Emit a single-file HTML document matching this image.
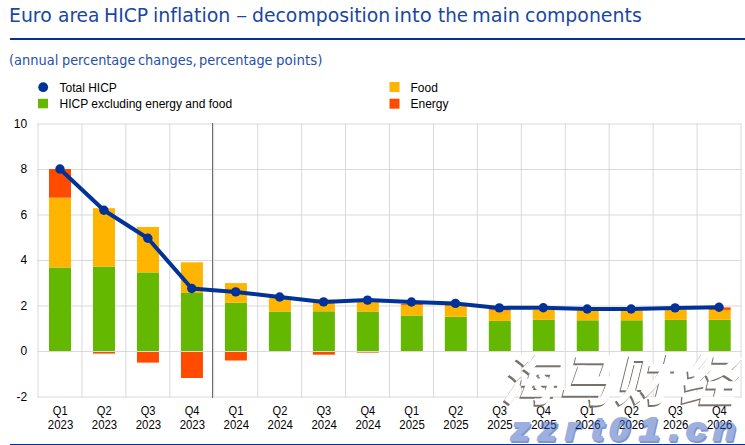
<!DOCTYPE html>
<html><head><meta charset="utf-8"><style>
html,body{margin:0;padding:0;background:#fff;}
body{width:745px;height:445px;overflow:hidden;position:relative;}
.title{position:absolute;top:4px;transform-origin:0 0;font-family:"DejaVu Sans","Liberation Sans",sans-serif;font-size:19.2px;color:#1a47a3;white-space:nowrap;line-height:24px;font-variant-ligatures:none;}
.sub{position:absolute;top:51px;transform-origin:0 0;font-family:"DejaVu Sans","Liberation Sans",sans-serif;font-size:14px;color:#2650a9;white-space:nowrap;line-height:18px;font-variant-ligatures:none;}
.rule{position:absolute;left:10px;right:0;top:38px;height:2px;background:#003299;}
.rule2{position:absolute;left:10px;right:0;top:444px;height:2px;background:#003299;}
svg{position:absolute;left:0;top:0;}
.ax{font-family:"Liberation Sans",sans-serif;font-size:12px;fill:#000;}
.wmc{font-family:"Noto Sans CJK SC","WenQuanYi Zen Hei",sans-serif;font-weight:900;font-size:55px;fill:#fff;}
.wms{fill:#78726c;}
.wml{font-family:"Liberation Sans",sans-serif;font-weight:bold;font-style:italic;font-size:31.5px;fill:rgb(60,100,195);stroke:rgb(60,100,195);stroke-width:2px;stroke-linejoin:round;}
.wmls{fill:rgb(10,45,160);stroke:rgb(10,45,160);}
</style></head><body>
<span class="title" style="left:8.73px;transform:scaleX(0.9829)">Euro</span><span class="title" style="left:57.53px;transform:scaleX(0.9675)">area</span><span class="title" style="left:104.04px;transform:scaleX(0.9814)">HICP</span><span class="title" style="left:153.42px;transform:scaleX(0.9907)">inflation</span><span class="title" style="left:236.02px;transform:scaleX(1.1750)">–</span><span class="title" style="left:252.42px;transform:scaleX(0.9806)">decomposition</span><span class="title" style="left:394.35px;transform:scaleX(1.0265)">into</span><span class="title" style="left:438.00px;transform:scaleX(0.9516)">the</span><span class="title" style="left:472.20px;transform:scaleX(1.0022)">main</span><span class="title" style="left:525.32px;transform:scaleX(0.9846)">components</span>
<div class="rule"></div>
<span class="sub" style="left:8.67px;transform:scaleX(0.9294)">(annual</span><span class="sub" style="left:61.88px;transform:scaleX(0.9205)">percentage</span><span class="sub" style="left:138.48px;transform:scaleX(0.9246)">changes,</span><span class="sub" style="left:199.38px;transform:scaleX(0.9231)">percentage</span><span class="sub" style="left:276.14px;transform:scaleX(0.9565)">points)</span>
<svg width="745" height="445" viewBox="0 0 745 445">
<line x1="37.5" x2="741.5" y1="124.0" y2="124.0" stroke="#d9d9d9" stroke-width="1"/>
<line x1="37.5" x2="741.5" y1="169.5" y2="169.5" stroke="#d9d9d9" stroke-width="1"/>
<line x1="37.5" x2="741.5" y1="215.0" y2="215.0" stroke="#d9d9d9" stroke-width="1"/>
<line x1="37.5" x2="741.5" y1="260.5" y2="260.5" stroke="#d9d9d9" stroke-width="1"/>
<line x1="37.5" x2="741.5" y1="306.0" y2="306.0" stroke="#d9d9d9" stroke-width="1"/>
<line x1="37.5" x2="741.5" y1="351.5" y2="351.5" stroke="#d9d9d9" stroke-width="1"/>
<line x1="37.5" x2="741.5" y1="397.0" y2="397.0" stroke="#d9d9d9" stroke-width="1"/>
<line x1="38.000" x2="38.000" y1="123.5" y2="397.5" stroke="#d9d9d9" stroke-width="1"/>
<line x1="81.938" x2="81.938" y1="123.5" y2="397.5" stroke="#d9d9d9" stroke-width="1"/>
<line x1="125.875" x2="125.875" y1="123.5" y2="397.5" stroke="#d9d9d9" stroke-width="1"/>
<line x1="169.812" x2="169.812" y1="123.5" y2="397.5" stroke="#d9d9d9" stroke-width="1"/>
<line x1="213.750" x2="213.750" y1="123.5" y2="397.5" stroke="#d9d9d9" stroke-width="1"/>
<line x1="257.688" x2="257.688" y1="123.5" y2="397.5" stroke="#d9d9d9" stroke-width="1"/>
<line x1="301.625" x2="301.625" y1="123.5" y2="397.5" stroke="#d9d9d9" stroke-width="1"/>
<line x1="345.562" x2="345.562" y1="123.5" y2="397.5" stroke="#d9d9d9" stroke-width="1"/>
<line x1="389.500" x2="389.500" y1="123.5" y2="397.5" stroke="#d9d9d9" stroke-width="1"/>
<line x1="433.438" x2="433.438" y1="123.5" y2="397.5" stroke="#d9d9d9" stroke-width="1"/>
<line x1="477.375" x2="477.375" y1="123.5" y2="397.5" stroke="#d9d9d9" stroke-width="1"/>
<line x1="521.312" x2="521.312" y1="123.5" y2="397.5" stroke="#d9d9d9" stroke-width="1"/>
<line x1="565.250" x2="565.250" y1="123.5" y2="397.5" stroke="#d9d9d9" stroke-width="1"/>
<line x1="609.188" x2="609.188" y1="123.5" y2="397.5" stroke="#d9d9d9" stroke-width="1"/>
<line x1="653.125" x2="653.125" y1="123.5" y2="397.5" stroke="#d9d9d9" stroke-width="1"/>
<line x1="697.062" x2="697.062" y1="123.5" y2="397.5" stroke="#d9d9d9" stroke-width="1"/>
<line x1="741.000" x2="741.000" y1="123.5" y2="397.5" stroke="#d9d9d9" stroke-width="1"/>
<rect x="49.00" y="267.5" width="22" height="83.50" fill="#65b800"/>
<rect x="49.00" y="197.7" width="22" height="69.80" fill="#ffb400"/>
<rect x="49.00" y="169.0" width="22" height="28.70" fill="#ff4b00"/>
<rect x="92.98" y="266.5" width="22" height="84.50" fill="#65b800"/>
<rect x="92.98" y="208.2" width="22" height="58.30" fill="#ffb400"/>
<rect x="92.98" y="352" width="22" height="1.60" fill="#ff4b00"/>
<rect x="136.96" y="272.4" width="22" height="78.60" fill="#65b800"/>
<rect x="136.96" y="227.0" width="22" height="45.40" fill="#ffb400"/>
<rect x="136.96" y="352" width="22" height="10.60" fill="#ff4b00"/>
<rect x="180.94" y="293.0" width="22" height="58.00" fill="#65b800"/>
<rect x="180.94" y="262.3" width="22" height="30.70" fill="#ffb400"/>
<rect x="180.94" y="352" width="22" height="26.00" fill="#ff4b00"/>
<rect x="224.92" y="302.8" width="22" height="48.20" fill="#65b800"/>
<rect x="224.92" y="283.1" width="22" height="19.70" fill="#ffb400"/>
<rect x="224.92" y="352" width="22" height="8.50" fill="#ff4b00"/>
<rect x="268.90" y="311.5" width="22" height="39.50" fill="#65b800"/>
<rect x="268.90" y="298.0" width="22" height="13.50" fill="#ffb400"/>
<rect x="312.88" y="311.3" width="22" height="39.70" fill="#65b800"/>
<rect x="312.88" y="299.5" width="22" height="11.80" fill="#ffb400"/>
<rect x="312.88" y="352" width="22" height="2.70" fill="#ff4b00"/>
<rect x="356.86" y="311.5" width="22" height="39.50" fill="#65b800"/>
<rect x="356.86" y="302.0" width="22" height="9.50" fill="#ffb400"/>
<rect x="356.86" y="352" width="22" height="0.60" fill="#ff4b00"/>
<rect x="400.84" y="315.5" width="22" height="35.50" fill="#65b800"/>
<rect x="400.84" y="304.9" width="22" height="10.60" fill="#ffb400"/>
<rect x="400.84" y="303.8" width="22" height="1.10" fill="#ff4b00"/>
<rect x="444.82" y="316.8" width="22" height="34.20" fill="#65b800"/>
<rect x="444.82" y="305.8" width="22" height="11.00" fill="#ffb400"/>
<rect x="444.82" y="305.0" width="22" height="0.80" fill="#ff4b00"/>
<rect x="488.80" y="320.9" width="22" height="30.10" fill="#65b800"/>
<rect x="488.80" y="310.5" width="22" height="10.40" fill="#ffb400"/>
<rect x="488.80" y="309.2" width="22" height="1.30" fill="#ff4b00"/>
<rect x="532.78" y="319.5" width="22" height="31.50" fill="#65b800"/>
<rect x="532.78" y="310.0" width="22" height="9.50" fill="#ffb400"/>
<rect x="576.76" y="320.3" width="22" height="30.70" fill="#65b800"/>
<rect x="576.76" y="310.4" width="22" height="9.90" fill="#ffb400"/>
<rect x="620.74" y="320.3" width="22" height="30.70" fill="#65b800"/>
<rect x="620.74" y="310.5" width="22" height="9.80" fill="#ffb400"/>
<rect x="664.72" y="319.9" width="22" height="31.10" fill="#65b800"/>
<rect x="664.72" y="310.0" width="22" height="9.90" fill="#ffb400"/>
<rect x="708.70" y="319.8" width="22" height="31.20" fill="#65b800"/>
<rect x="708.70" y="309.9" width="22" height="9.90" fill="#ffb400"/>
<rect x="708.70" y="307.4" width="22" height="2.50" fill="#ff4b00"/>
<line x1="212.5" x2="212.5" y1="123" y2="398" stroke="#6a6a6a" stroke-width="1"/>
<polyline points="59.97,169.0 103.91,210.2 147.84,238.2 191.78,288.5 235.72,291.9 279.66,297.0 323.59,301.9 367.53,300.1 411.47,302.0 455.41,303.4 499.34,307.9 543.28,307.7 587.22,309.0 631.16,309.0 675.09,307.9 719.03,307.2" fill="none" stroke="#003299" stroke-width="4" stroke-linejoin="round" stroke-linecap="round"/>
<circle cx="59.97" cy="169.0" r="4.7" fill="#003299"/>
<circle cx="103.91" cy="210.2" r="4.7" fill="#003299"/>
<circle cx="147.84" cy="238.2" r="4.7" fill="#003299"/>
<circle cx="191.78" cy="288.5" r="4.7" fill="#003299"/>
<circle cx="235.72" cy="291.9" r="4.7" fill="#003299"/>
<circle cx="279.66" cy="297.0" r="4.7" fill="#003299"/>
<circle cx="323.59" cy="301.9" r="4.7" fill="#003299"/>
<circle cx="367.53" cy="300.1" r="4.7" fill="#003299"/>
<circle cx="411.47" cy="302.0" r="4.7" fill="#003299"/>
<circle cx="455.41" cy="303.4" r="4.7" fill="#003299"/>
<circle cx="499.34" cy="307.9" r="4.7" fill="#003299"/>
<circle cx="543.28" cy="307.7" r="4.7" fill="#003299"/>
<circle cx="587.22" cy="309.0" r="4.7" fill="#003299"/>
<circle cx="631.16" cy="309.0" r="4.7" fill="#003299"/>
<circle cx="675.09" cy="307.9" r="4.7" fill="#003299"/>
<circle cx="719.03" cy="307.2" r="4.7" fill="#003299"/>
<text x="27.2" y="127.5" text-anchor="end" class="ax">10</text>
<text x="27.2" y="173.0" text-anchor="end" class="ax">8</text>
<text x="27.2" y="218.5" text-anchor="end" class="ax">6</text>
<text x="27.2" y="264.0" text-anchor="end" class="ax">4</text>
<text x="27.2" y="309.5" text-anchor="end" class="ax">2</text>
<text x="27.2" y="355.0" text-anchor="end" class="ax">0</text>
<text x="27.2" y="400.5" text-anchor="end" class="ax">-2</text>
<text x="60.27" y="415" text-anchor="middle" class="ax" textLength="14.8" lengthAdjust="spacingAndGlyphs">Q1</text>
<text x="60.57" y="429" text-anchor="middle" class="ax" textLength="25.4" lengthAdjust="spacingAndGlyphs">2023</text>
<text x="104.21" y="415" text-anchor="middle" class="ax" textLength="14.8" lengthAdjust="spacingAndGlyphs">Q2</text>
<text x="104.51" y="429" text-anchor="middle" class="ax" textLength="25.4" lengthAdjust="spacingAndGlyphs">2023</text>
<text x="148.14" y="415" text-anchor="middle" class="ax" textLength="14.8" lengthAdjust="spacingAndGlyphs">Q3</text>
<text x="148.44" y="429" text-anchor="middle" class="ax" textLength="25.4" lengthAdjust="spacingAndGlyphs">2023</text>
<text x="192.08" y="415" text-anchor="middle" class="ax" textLength="14.8" lengthAdjust="spacingAndGlyphs">Q4</text>
<text x="192.38" y="429" text-anchor="middle" class="ax" textLength="25.4" lengthAdjust="spacingAndGlyphs">2023</text>
<text x="236.02" y="415" text-anchor="middle" class="ax" textLength="14.8" lengthAdjust="spacingAndGlyphs">Q1</text>
<text x="236.32" y="429" text-anchor="middle" class="ax" textLength="25.4" lengthAdjust="spacingAndGlyphs">2024</text>
<text x="279.96" y="415" text-anchor="middle" class="ax" textLength="14.8" lengthAdjust="spacingAndGlyphs">Q2</text>
<text x="280.26" y="429" text-anchor="middle" class="ax" textLength="25.4" lengthAdjust="spacingAndGlyphs">2024</text>
<text x="323.89" y="415" text-anchor="middle" class="ax" textLength="14.8" lengthAdjust="spacingAndGlyphs">Q3</text>
<text x="324.19" y="429" text-anchor="middle" class="ax" textLength="25.4" lengthAdjust="spacingAndGlyphs">2024</text>
<text x="367.83" y="415" text-anchor="middle" class="ax" textLength="14.8" lengthAdjust="spacingAndGlyphs">Q4</text>
<text x="368.13" y="429" text-anchor="middle" class="ax" textLength="25.4" lengthAdjust="spacingAndGlyphs">2024</text>
<text x="411.77" y="415" text-anchor="middle" class="ax" textLength="14.8" lengthAdjust="spacingAndGlyphs">Q1</text>
<text x="412.07" y="429" text-anchor="middle" class="ax" textLength="25.4" lengthAdjust="spacingAndGlyphs">2025</text>
<text x="455.71" y="415" text-anchor="middle" class="ax" textLength="14.8" lengthAdjust="spacingAndGlyphs">Q2</text>
<text x="456.01" y="429" text-anchor="middle" class="ax" textLength="25.4" lengthAdjust="spacingAndGlyphs">2025</text>
<text x="499.64" y="415" text-anchor="middle" class="ax" textLength="14.8" lengthAdjust="spacingAndGlyphs">Q3</text>
<text x="499.94" y="429" text-anchor="middle" class="ax" textLength="25.4" lengthAdjust="spacingAndGlyphs">2025</text>
<text x="543.58" y="415" text-anchor="middle" class="ax" textLength="14.8" lengthAdjust="spacingAndGlyphs">Q4</text>
<text x="543.88" y="429" text-anchor="middle" class="ax" textLength="25.4" lengthAdjust="spacingAndGlyphs">2025</text>
<text x="587.52" y="415" text-anchor="middle" class="ax" textLength="14.8" lengthAdjust="spacingAndGlyphs">Q1</text>
<text x="587.82" y="429" text-anchor="middle" class="ax" textLength="25.4" lengthAdjust="spacingAndGlyphs">2026</text>
<text x="631.46" y="415" text-anchor="middle" class="ax" textLength="14.8" lengthAdjust="spacingAndGlyphs">Q2</text>
<text x="631.76" y="429" text-anchor="middle" class="ax" textLength="25.4" lengthAdjust="spacingAndGlyphs">2026</text>
<text x="675.39" y="415" text-anchor="middle" class="ax" textLength="14.8" lengthAdjust="spacingAndGlyphs">Q3</text>
<text x="675.69" y="429" text-anchor="middle" class="ax" textLength="25.4" lengthAdjust="spacingAndGlyphs">2026</text>
<text x="719.33" y="415" text-anchor="middle" class="ax" textLength="14.8" lengthAdjust="spacingAndGlyphs">Q4</text>
<text x="719.63" y="429" text-anchor="middle" class="ax" textLength="25.4" lengthAdjust="spacingAndGlyphs">2026</text>
<circle cx="43.2" cy="87.2" r="4.9" fill="#003299"/>
<rect x="38" y="98.8" width="10" height="9.5" fill="#65b800"/>
<rect x="389.5" y="82" width="10" height="10" fill="#ffb400"/>
<rect x="389.5" y="98.7" width="10" height="10" fill="#ff4b00"/>
<text x="59.5" y="92" class="ax">Total HICP</text>
<text x="59.5" y="108" class="ax">HICP excluding energy and food</text>
<text x="410.5" y="92" class="ax">Food</text>
<text x="410.5" y="108" class="ax">Energy</text>
<text x="501 559 615 680" y="0" class="wmc wms" transform="translate(-1.4,401.6) skewX(-14)">海马财经</text>
<text x="501 559 615 680" y="0" class="wmc" transform="translate(0,400) skewX(-14)">海马财经</text>
<g opacity="0.5"><text class="wml wmls" transform="translate(1.2,1.6) scale(1.17,1)" x="436.75 459.83 482.91 505.13 520.51 546.15 571.79 586.32 609.40" y="440">zzrt01.cn</text><text class="wml" transform="scale(1.17,1)" x="436.75 459.83 482.91 505.13 520.51 546.15 571.79 586.32 609.40" y="440">zzrt01.cn</text></g>
</svg>
<div class="rule2"></div>
</body></html>
